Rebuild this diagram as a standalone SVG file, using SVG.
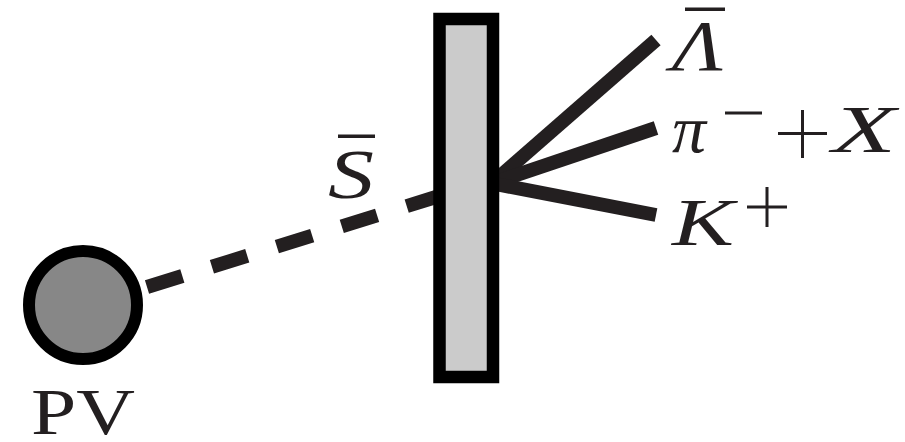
<svg xmlns="http://www.w3.org/2000/svg" width="905" height="442" viewBox="0 0 905 442">
<style>
.trk{stroke:#231f20;stroke-width:14;stroke-linecap:butt;fill:none}
.bar{fill:#231f20}
.m{font-family:'Liberation Serif','DejaVu Serif',serif;font-style:italic;fill:#231f20}
.r{font-family:'Liberation Serif','DejaVu Serif',serif;fill:#231f20}
</style>
<rect width="905" height="442" fill="#ffffff"/>
<g id="connectors">
<line class="trk" x1="147" y1="287" x2="436" y2="197" stroke-dasharray="37 31"/>
<line class="trk" x1="490" y1="185" x2="656" y2="40"/>
<line class="trk" x1="490" y1="184" x2="656" y2="128"/>
<line class="trk" x1="490" y1="183" x2="656" y2="215"/>
</g>
<g id="pv">
<circle cx="83" cy="305" r="54" fill="#878787" stroke="#000" stroke-width="12"/>
<text class="r" x="31" y="434" font-size="66" textLength="104" lengthAdjust="spacingAndGlyphs">PV</text>
</g>
<g id="detector">
<rect x="439.5" y="19" width="53.5" height="358" fill="#cbcbcb" stroke="#000" stroke-width="12.5"/>
</g>
<g id="label-s">
<rect class="bar" x="338" y="134.5" width="37" height="3.5"/>
<text class="m" x="328" y="198" font-size="70" textLength="46" lengthAdjust="spacingAndGlyphs">S</text>
</g>
<g id="label-lambda">
<rect class="bar" x="685" y="7.5" width="40" height="3.5"/>
<text class="m" x="672" y="70" font-size="72" textLength="51" lengthAdjust="spacingAndGlyphs">Λ</text>
</g>
<g id="label-pi">
<text class="m" x="672" y="152" font-size="68" textLength="34" lengthAdjust="spacingAndGlyphs">π</text>
<rect class="bar" x="725" y="111.5" width="37" height="3"/>
<rect class="bar" x="778" y="132" width="49" height="3"/>
<rect class="bar" x="801" y="110" width="3" height="48"/>
<text class="m" x="832" y="152" font-size="68" textLength="64" lengthAdjust="spacingAndGlyphs">X</text>
</g>
<g id="label-k">
<text class="m" x="672" y="245" font-size="68" textLength="62" lengthAdjust="spacingAndGlyphs">K</text>
<rect class="bar" x="747" y="205.5" width="40" height="3"/>
<rect class="bar" x="765.5" y="187" width="3" height="40"/>
</g>
</svg>
